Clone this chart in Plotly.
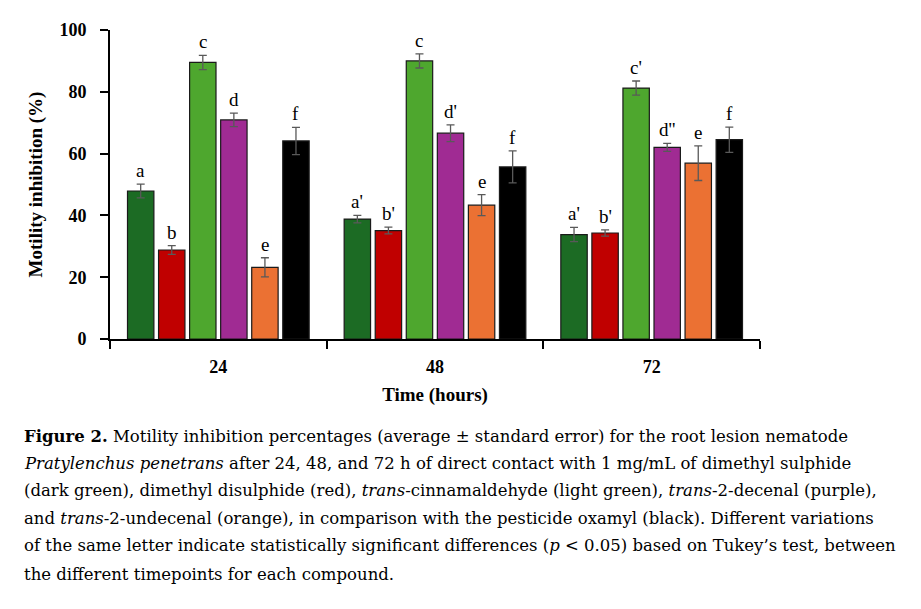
import plotly.graph_objects as go

# data
times = ["24", "48", "72"]
compounds = ["dimethyl sulphide", "dimethyl disulphide", "trans-cinnamaldehyde",
             "trans-2-decenal", "trans-2-undecenal", "oxamyl"]
colors = ["#1c6b24", "#c00000", "#4ea72e", "#a02b93", "#eb7133", "#000000"]

dms = [47.9, 38.8, 33.8]
dmds = [28.8, 35.1, 34.3]
cinnam = [89.5, 90.0, 81.2]
decenal = [70.9, 66.6, 62.0]
undecenal = [23.2, 43.3, 56.9]
oxamyl = [64.1, 55.7, 64.5]

dms_err = [2.2, 1.2, 2.3]
dmds_err = [1.4, 1.1, 1.0]
cinnam_err = [2.3, 2.3, 2.3]
decenal_err = [2.2, 2.7, 1.3]
undecenal_err = [3.1, 3.4, 5.6]
oxamyl_err = [4.4, 5.2, 4.1]

dms_lab = ["a", "a'", "a'"]
dmds_lab = ["b", "b'", "b'"]
cinnam_lab = ["c", "c", "c'"]
decenal_lab = ["d", "d'", "d''"]
undecenal_lab = ["e", "e", "e"]
oxamyl_lab = ["f", "f", "f"]

values = [dms, dmds, cinnam, decenal, undecenal, oxamyl]
errors = [dms_err, dmds_err, cinnam_err, decenal_err, undecenal_err, oxamyl_err]
letters = [dms_lab, dmds_lab, cinnam_lab, decenal_lab, undecenal_lab, oxamyl_lab]

caption = [
    "<b>Figure 2.</b> Motility inhibition percentages (average \u00b1 standard error) for the root lesion nematode",
    "<i>Pratylenchus penetrans</i> after 24, 48, and 72 h of direct contact with 1 mg/mL of dimethyl sulphide",
    "(dark green), dimethyl disulphide (red), <i>trans</i>-cinnamaldehyde (light green), <i>trans</i>-2-decenal (purple),",
    "and <i>trans</i>-2-undecenal (orange), in comparison with the pesticide oxamyl (black). Different variations",
    "of the same letter indicate statistically significant differences (<i>p</i> < 0.05) based on Tukey\u2019s test, between",
    "the different timepoints for each compound.",
]

serif = "Liberation Serif"
cap_font = "DejaVu Serif"
bargap = 0.14

# page has an 8px body margin, so the figure is a bit smaller than the window
W, H = 905, 593
L, R, T, B = 102, 153, 19, 262
plot_w = W - L - R
plot_h = H - T - B

fig = go.Figure()
for name, vals, errs, col in zip(compounds, values, errors, colors):
    fig.add_trace(go.Bar(
        x=times, y=vals, name=name,
        marker=dict(color=col, line=dict(color="#1a1a1a", width=1.2)),
        error_y=dict(type="data", array=errs, color="#595959", thickness=1.3, width=4),
    ))

# significance letters above error bars
n = len(compounds)
slot = (1 - bargap) / n
for i in range(n):
    for g in range(len(times)):
        fig.add_annotation(
            x=g + (i - (n - 1) / 2) * slot, y=values[i][g] + errors[i][g],
            xref="x", yref="y", text=letters[i][g], showarrow=False,
            yanchor="bottom", yshift=1,
            font=dict(family=serif, size=19, color="black"),
        )

# caption, positions in figure pixels
line_y = [429, 457, 484, 512, 540, 569]
for txt, yy in zip(caption, line_y):
    fig.add_annotation(
        x=(14 - L) / plot_w, y=(H - B - yy) / plot_h, xref="paper", yref="paper",
        text=txt, showarrow=False, xanchor="left", yanchor="middle",
        font=dict(family=cap_font, size=16.5, color="black"),
    )

fig.update_layout(
    width=W, height=H,
    margin=dict(l=L, r=R, t=T, b=B),
    paper_bgcolor="white", plot_bgcolor="white",
    barmode="group", bargap=bargap, bargroupgap=0.15,
    showlegend=False,
    font=dict(family=serif, color="black"),
)
fig.update_xaxes(
    type="category", tickson="boundaries", ticks="outside", ticklen=8, tickwidth=2,
    tickcolor="black", showline=True, linecolor="black", linewidth=2,
    ticklabelstandoff=10,
    tickfont=dict(family=serif, size=18, color="black", weight="bold"),
    title=dict(text="<b>Time (hours)</b>", font=dict(family=serif, size=19), standoff=12),
)
fig.update_yaxes(
    range=[0, 100], dtick=20, ticks="outside", ticklen=8, tickwidth=2, tickcolor="black",
    showline=True, linecolor="black", linewidth=2, showgrid=False, zeroline=False,
    ticklabelstandoff=10,
    tickfont=dict(family=serif, size=18, color="black", weight="bold"),
    title=dict(text="<b>Motility inhibition (%)</b>", font=dict(family=serif, size=19), standoff=12),
)

fig.write_html("out.html")
